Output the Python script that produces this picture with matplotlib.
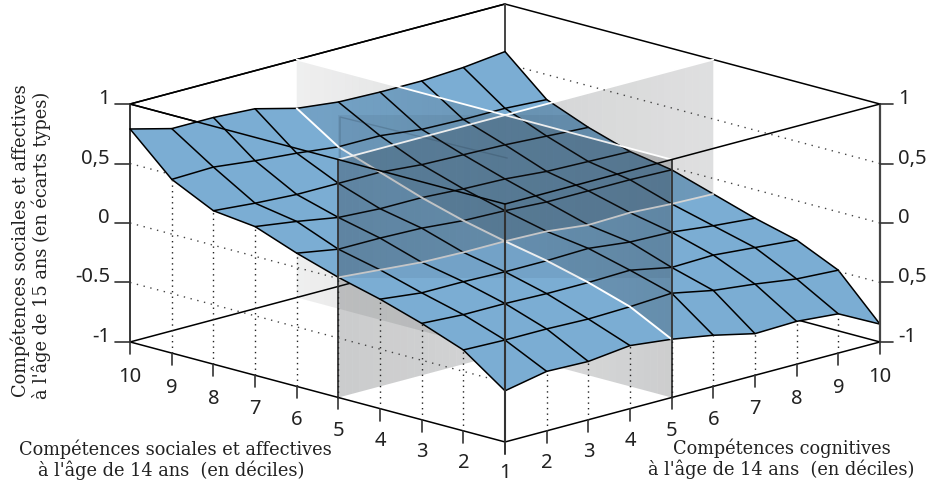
#!/usr/bin/env python
# 3D surface of social skills at 15 by cognitive / social skill deciles at 14

import matplotlib
matplotlib.use("Agg")
import matplotlib.pyplot as plt
import numpy as np
from matplotlib.lines import Line2D
from matplotlib.patches import Polygon, Rectangle
from mpl_toolkits.mplot3d import proj3d
from mpl_toolkits.mplot3d.art3d import Poly3DCollection

deciles = [1, 2, 3, 4, 5, 6, 7, 8, 9, 10]
level_ticks = [-1, -0.5, 0, 0.5, 1]
left_labels = ["-1", "-0.5", "0", "0,5", "1"]
right_labels = ["-1", "0,5", "0", "0,5", "1"]

# one row per social decile, one column per cognitive decile
social_1 = [-.57, -.50, -.51, -.47, -.51, -.57, -.65, -.64, -.67, -.85]
social_2 = [-.32, -.33, -.33, -.34, -.33, -.31, -.38, -.42, -.47, -.49]
social_3 = [-.19, -.21, -.21, -.22, -.22, -.21, -.28, -.27, -.30, -.33]
social_4 = [-.08, -.12, -.12, -.13, -.13, -.12, -.16, -.17, -.21, -.24]
social_5 = [.01, -.02, -.05, -.06, -.06, -.07, -.11, -.10, -.12, -.13]
social_6 = [.12, .06, .06, .05, .02, .01, -.01, -.01, -.01, -.02]
social_7 = [.25, .20, .14, .12, .12, .10, .09, .06, .05, .04]
social_8 = [.29, .26, .24, .24, .24, .21, .20, .19, .17, .15]
social_9 = [.46, .47, .43, .40, .36, .36, .32, .31, .31, .29]
social_10 = [.79, .70, .70, .68, .59, .55, .54, .54, .56, .60]
z_grid = np.array([social_1, social_2, social_3, social_4, social_5,
                   social_6, social_7, social_8, social_9, social_10])

BLUE = "#7badd3"
PLANE = "#1c2024"
SERIF = "DejaVu Serif"
SANS = "Noto Sans"
LOW, HIGH = 1, 10
MID = 5
PX_W, PX_H = 927, 482

fig = plt.figure(figsize=(PX_W / 100, PX_H / 100), dpi=100)
ax = fig.add_axes([35 / PX_W, 11.5 / PX_H, 1, 1], projection="3d", computed_zorder=False)
ax.set_proj_type("ortho")
ax.view_init(elev=15.47, azim=-135)
ax.set_box_aspect((2.036, 2.036, 0.948), zoom=1.59)
ax.set_xlim(LOW, HIGH)
ax.set_ylim(LOW, HIGH)
ax.set_zlim(-1, 1)
ax.set_axis_off()


def line(cs, ss, zs, color="black", lw=1.1, z=10, ls="-"):
    ax.plot(cs, ss, zs, color=color, lw=lw, zorder=z, ls=ls, solid_capstyle="round")


def label(c, s, level, text, ha="center"):
    # project by hand so the label ends up as plain 2D text
    x2, y2, _ = proj3d.proj_transform(c, s, level, ax.get_proj())
    ax.text2D(x2, y2, text, transform=ax.transData, ha=ha, va="center",
              family=SANS, fontsize=14.5, color="#222222")


def surface_patch(c_lo, c_hi, s_lo, s_hi, z):
    # one quadrant of the surface with its black grid
    polys = []
    for i in range(c_lo - 1, c_hi - 1):
        for j in range(s_lo - 1, s_hi - 1):
            polys.append([(deciles[a], deciles[b], z_grid[b, a])
                          for a, b in [(i, j), (i + 1, j), (i + 1, j + 1), (i, j + 1)]])
    col = Poly3DCollection(polys, facecolor=BLUE, edgecolor=BLUE, linewidth=0.3, zorder=z)
    ax.add_collection3d(col, autolim=False)
    for c in range(c_lo, c_hi + 1):
        if c != MID:
            line([c] * (s_hi - s_lo + 1), deciles[s_lo - 1:s_hi], z_grid[s_lo - 1:s_hi, c - 1], z=z)
    for s in range(s_lo, s_hi + 1):
        if s != MID:
            line(deciles[c_lo - 1:c_hi], [s] * (c_hi - c_lo + 1), z_grid[s - 1, c_lo - 1:c_hi], z=z)


def plane_part(fixed, lo, hi, a_lo, a_hi, z):
    # translucent wall at decile 5, cut into thin strips to get the fade
    steps = np.linspace(lo, hi, (hi - lo) * 6 + 1)
    polys, colors = [], []
    for u0, u1 in zip(steps[:-1], steps[1:]):
        if fixed == "c":
            h0, h1 = np.interp([u0, u1], deciles, z_grid[:, MID - 1])
            lower = [(MID, u0, -1), (MID, u1, -1), (MID, u1, h1), (MID, u0, h0)]
            upper = [(MID, u0, h0), (MID, u1, h1), (MID, u1, 1), (MID, u0, 1)]
        else:
            h0, h1 = np.interp([u0, u1], deciles, z_grid[MID - 1, :])
            lower = [(u0, MID, -1), (u1, MID, -1), (u1, MID, h1), (u0, MID, h0)]
            upper = [(u0, MID, h0), (u1, MID, h1), (u1, MID, 1), (u0, MID, 1)]
        alpha = a_lo + (a_hi - a_lo) * ((u0 + u1) / 2 - LOW) / (HIGH - LOW)
        rgba = matplotlib.colors.to_rgba(PLANE, alpha)
        polys += [lower, upper]
        colors += [rgba, rgba]
    col = Poly3DCollection(polys, facecolors=colors, edgecolor="none", linewidth=0, zorder=z)
    ax.add_collection3d(col, autolim=False)


# back of the box
line([1, 10, 10], [10, 10, 1], [-1, -1, -1], z=1)
line([1, 1, 10], [1, 10, 10], [1, 1, 1], z=1)
line([1, 10, 10], [10, 10, 1], [1, 1, 1], z=1)
line([10, 10], [10, 10], [-1, 1], color="#444444", lw=1.4, z=1)

# painter's order, far quadrant first
surface_patch(MID, HIGH, MID, HIGH, 2)
plane_part("c", MID, HIGH, 0.22, 0.07, 3)
plane_part("s", MID, HIGH, 0.23, 0.14, 3)
surface_patch(LOW, MID, MID, HIGH, 4)
surface_patch(MID, HIGH, LOW, MID, 4)
line([MID] * 6, deciles[4:], z_grid[4:, MID - 1], color="white", lw=1.4, z=4.5)
plane_part("s", LOW, MID, 0.23, 0.14, 5)
plane_part("c", LOW, MID, 0.22, 0.07, 5)
surface_patch(LOW, MID, LOW, MID, 6)
line([MID] * 5, deciles[:5], z_grid[:5, MID - 1], color="white", lw=1.4, z=7)
line(deciles, [MID] * 10, z_grid[MID - 1, :], color="#d4d4d4", lw=1.3, z=7)

# top edges of the two walls
line([MID, MID], [LOW, HIGH], [1, 1], color="white", lw=1.3, z=8)
line([LOW, HIGH], [MID, MID], [1, 1], color="white", lw=1.3, z=8)

# front of the box
line([1, 1], [10, 10], [-1, 1], z=9)
line([10, 10], [1, 1], [-1, 1], color="#444444", lw=1.6, z=9)
line([1, 1], [1, 1], [-1, 1], color="#333333", lw=1.5, z=9)
line([1, 1], [MID, MID], [-1, 1], color="#333333", lw=1.3, z=9)
line([MID, MID], [1, 1], [-1, 1], color="#333333", lw=1.3, z=9)
line([1, 1, 10], [10, 1, 1], [1, 1, 1], z=9)
line([1, 1, 10], [10, 1, 1], [-1, -1, -1], z=9)

# dotted guides on the side walls, up to where they meet the surface
dots = (0, (1, 4))
for level, s_end in zip([0.5, 0, -0.5], [9.05, 5.0, 1.3]):
    line([1, 1], [10, s_end], [level, level], color="#444444", lw=1, z=9, ls=dots)
for level, s_end in zip([0.5, 0, -0.5], [9.6, 6.0, 2.05]):
    line([10, 10], [1, s_end], [level, level], color="#444444", lw=1, z=9, ls=dots)
for d in deciles[1:-1]:
    line([1, 1], [d, d], [-1, z_grid[d - 1, 0]], color="#222222", lw=1, z=9, ls=(0, (1, 3)))
    line([d, d], [1, 1], [-1, z_grid[0, d - 1]], color="#222222", lw=1, z=9, ls=(0, (1, 3)))

# ticks and tick labels
for d in deciles:
    line([1, 1], [d, d], [-1, -1.1], color="#333333", lw=1.2, z=9)
    line([d, d], [1, 1], [-1, -1.1], color="#333333", lw=1.2, z=9)
    label(1, d, -1.265 - 0.0035 * (d - 1), str(d))
    if d > 1:
        label(d, 1, -1.265 - 0.0035 * (d - 1), str(d))
for level, left, right in zip(level_ticks, left_labels, right_labels):
    line([1, 0.82], [10, 10.18], [level, level], color="#333333", lw=1.2, z=9)
    line([10, 10.16], [1, 0.84], [level, level], color="#333333", lw=1.2, z=9)
    label(0.76, 10.24, level + 0.042, left, ha="right")
    label(10.22, 0.78, level + 0.042, right, ha="left")

for artist in ax.get_children():
    artist.set_clip_on(False)

# faint leftover box over the middle of the surface, tints the surface only
outline_c = deciles + [10] * 9 + deciles[-2::-1] + [1] * 9
outline_s = [1] * 10 + deciles[1:] + [10] * 9 + deciles[-2::-1]
outline_z = [z_grid[s - 1, c - 1] for c, s in zip(outline_c, outline_s)]
out_x, out_y, _ = proj3d.proj_transform(np.array(outline_c), np.array(outline_s),
                                        np.array(outline_z), ax.get_proj())
outline = Polygon(np.column_stack([out_x, out_y]), transform=ax.transData)
tint = Rectangle((338 / PX_W, 1 - 278 / PX_H), 332 / PX_W, 163 / PX_H, transform=fig.transFigure,
                 facecolor="#1c2c3c", edgecolor="none", alpha=0.08)
fig.add_artist(tint)
tint.set_clip_path(outline)
fig.add_artist(Line2D([340 / PX_W, 340 / PX_W, 507 / PX_W],
                      [1 - 157 / PX_H, 1 - 117 / PX_H, 1 - 158 / PX_H],
                      transform=fig.transFigure, color="#1c2c3c", lw=1, alpha=0.2))


# axis titles, placed in figure pixels
def fig_text(x, y, s, **kw):
    fig.text(x / PX_W, 1 - y / PX_H, s, ha="center", va="center", family=SERIF,
             fontsize=12.8, color="#222222", **kw)


fig_text(175, 449, "Compétences sociales et affectives")
fig_text(171, 470, "à l'âge de 14 ans  (en déciles)")
fig_text(782, 448, "Compétences cognitives")
fig_text(781, 469, "à l'âge de 14 ans  (en déciles)")
fig_text(20, 241, "Compétences sociales et affectives", rotation=90)
fig_text(41, 245, "à l'âge de 15 ans (en écarts types)", rotation=90)

fig.savefig("out.png", dpi=100)
